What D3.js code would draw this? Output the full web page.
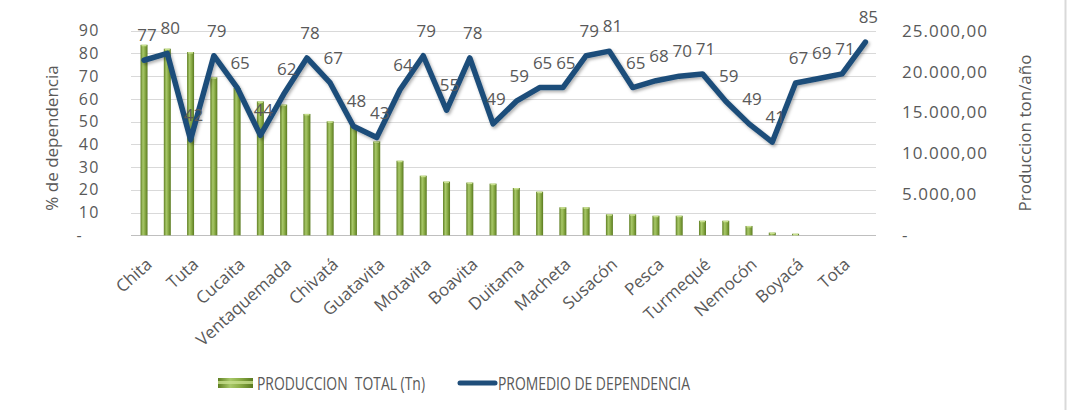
<!DOCTYPE html>
<html>
<head>
<meta charset="utf-8">
<script src="https://cdn.jsdelivr.net/npm/d3@7"></script>
<style>
  html, body { margin: 0; padding: 0; background: #fff; }
  svg { display: block; }
</style>
</head>
<body>
<svg id="chart" width="1068" height="410"></svg>
<script>
// ---- data ----
const categoryNames = ["Chita","","Tuta","","Cucaita","","Ventaquemada","","Chivatá","","Guatavita","","Motavita","","Boavita","","Duitama","","Macheta","","Susacón","","Pesca","","Turmequé","","Nemocón","","Boyacá","","Tota",""];
const produccionTotal = [23280,22800,22390,19300,18000,16360,15970,14830,13920,13470,11470,9110,7280,6560,6440,6310,5780,5330,3420,3420,2560,2560,2390,2390,1780,1780,1140,330,190,0,0,0];
const promedioDependencia = [77,80,42,79,65,44,62,78,67,48,43,64,79,55,78,49,59,65,65,79,81,65,68,70,71,59,49,41,67,69,71,85];
const leftTicks = [0,10,20,30,40,50,60,70,80,90];
const rightTicks = [0,5000,10000,15000,20000,25000];
const legendLabels = ["PRODUCCION  TOTAL (Tn)", "PROMEDIO DE DEPENDENCIA"];
const leftTitle = "% de dependencia";
const rightTitle = "Produccion ton/año";

// ---- layout ----
const svg = d3.select("#chart");
const textColor = "#595959";
const idx = d3.range(categoryNames.length);
const x = d3.scaleBand().domain(idx).range([132.4, 877]);
const yL = d3.scaleLinear().domain([0, 90]).range([235.3, 30.7]);
const yR = d3.scaleLinear().domain([0, 25000]).range([235.3, 30.7]);
const cx = i => x(i) + x.bandwidth() / 2;

const es = d3.formatLocale({decimal: ",", thousands: ".", grouping: [3], currency: ["", ""]});
const fmtR = es.format(",.2f");

const defs = svg.append("defs");
const grad = defs.append("linearGradient").attr("id", "barGrad").attr("x1", "0").attr("x2", "1").attr("y1", "0").attr("y2", "0");
grad.append("stop").attr("offset", "0%").attr("stop-color", "#5f7f22");
grad.append("stop").attr("offset", "35%").attr("stop-color", "#a8c86a");
grad.append("stop").attr("offset", "60%").attr("stop-color", "#8eb04a");
grad.append("stop").attr("offset", "100%").attr("stop-color", "#5a7a20");
const shadow = defs.append("filter").attr("id", "shadow").attr("x", "-5%").attr("y", "-20%").attr("width", "110%").attr("height", "140%");
shadow.append("feDropShadow").attr("dx", 1.5).attr("dy", 2).attr("stdDeviation", 1.5).attr("flood-color", "#000").attr("flood-opacity", 0.3);

// chart frame edge on right
svg.append("line").attr("x1", 1065.5).attr("x2", 1065.5).attr("y1", 0).attr("y2", 410)
  .attr("stroke", "#d9d9d9").attr("stroke-width", 2);

// gridlines
svg.append("g").selectAll("line").data(leftTicks.filter(d => d > 0)).join("line")
  .attr("x1", 131).attr("x2", 876)
  .attr("y1", d => Math.round(yL(d)) + 0.5).attr("y2", d => Math.round(yL(d)) + 0.5)
  .attr("stroke", "#d9d9d9").attr("stroke-width", 1);
svg.append("line").attr("x1", 131).attr("x2", 876)
  .attr("y1", Math.round(yL(0)) + 0.5).attr("y2", Math.round(yL(0)) + 0.5)
  .attr("stroke", "#bfbfbf").attr("stroke-width", 1);

// left axis labels
const leftAxis = d3.axisLeft(yL).tickValues(leftTicks).tickSize(0).tickPadding(0)
  .tickFormat(d => d === 0 ? "-\u00a0\u00a0\u00a0" : String(d));
svg.append("g").attr("transform", "translate(100,0)").call(leftAxis)
  .call(g => g.select(".domain").remove())
  .selectAll("text").attr("fill", textColor).attr("font-family", "Open Sans").attr("font-size", 16)
  .attr("letter-spacing", 1.5);

// right axis labels
const rightAxis = d3.axisRight(yR).tickValues(rightTicks).tickSize(0).tickPadding(0)
  .tickFormat(d => d === 0 ? "-" : fmtR(d));
svg.append("g").attr("transform", "translate(902,0)").call(rightAxis)
  .call(g => g.select(".domain").remove())
  .selectAll("text").attr("fill", textColor).attr("font-family", "Open Sans").attr("font-size", 17)
  .attr("letter-spacing", 1);

// axis titles
svg.append("text").attr("transform", `translate(58,${(yL(0) + yL(90)) / 2 + 5}) rotate(-90)`)
  .attr("text-anchor", "middle").attr("fill", textColor)
  .attr("font-family", "Open Sans").attr("font-size", 17).text(leftTitle);
svg.append("text").attr("transform", `translate(1031,${(yR(0) + yR(25000)) / 2}) rotate(-90)`)
  .attr("text-anchor", "middle").attr("fill", textColor)
  .attr("font-family", "Open Sans").attr("font-size", 17).text(rightTitle);

// bars
const barW = 7;
svg.append("g").selectAll("rect").data(produccionTotal).join("rect")
  .attr("x", (d, i) => cx(i) - barW / 2)
  .attr("width", barW)
  .attr("y", d => yR(d))
  .attr("height", d => yR(0) - yR(d))
  .attr("fill", "url(#barGrad)");
svg.append("g").selectAll("rect").data(produccionTotal).join("rect")
  .attr("x", (d, i) => cx(i) - barW / 2 + 1)
  .attr("width", barW - 2)
  .attr("y", d => yR(d))
  .attr("height", d => d > 0 ? 1.5 : 0)
  .attr("fill", "#c8e08e");

// line
const line = d3.line().x((d, i) => cx(i)).y(d => yL(d));
svg.append("path").datum(promedioDependencia)
  .attr("d", line).attr("fill", "none")
  .attr("stroke", "#1f4e7a").attr("stroke-width", 5.5)
  .attr("stroke-linejoin", "round").attr("stroke-linecap", "round")
  .attr("filter", "url(#shadow)");

// data labels
svg.append("g").selectAll("text").data(promedioDependencia).join("text")
  .attr("x", (d, i) => cx(i) + 3)
  .attr("y", d => yL(d) - 19)
  .attr("text-anchor", "middle")
  .attr("fill", textColor).attr("font-family", "Open Sans").attr("font-size", 17)
  .text(d => d);

// category labels
svg.append("g").selectAll("text").data(idx.filter(i => categoryNames[i] !== "")).join("text")
  .attr("transform", i => `translate(${cx(i) + 9},266) rotate(-42)`)
  .attr("text-anchor", "end")
  .attr("fill", textColor).attr("font-family", "Open Sans").attr("font-size", 17)
  .text(i => categoryNames[i]);

// legend
const lg = svg.append("g");
lg.append("rect").attr("x", 218).attr("y", 378).attr("width", 35).attr("height", 10).attr("fill", "url(#barGrad)");
lg.append("rect").attr("x", 218).attr("y", 381).attr("width", 35).attr("height", 3).attr("fill", "#c8e08e").attr("opacity", 0.8);
lg.append("text").attr("x", 257).attr("y", 390).attr("fill", textColor)
  .attr("font-family", "Open Sans").attr("font-size", 17.5)
  .attr("textLength", 168).attr("lengthAdjust", "spacingAndGlyphs")
  .style("white-space", "pre").text(legendLabels[0]);
lg.append("line").attr("x1", 460).attr("x2", 495).attr("y1", 383).attr("y2", 383)
  .attr("stroke", "#1f4e7a").attr("stroke-width", 5).attr("stroke-linecap", "round");
lg.append("text").attr("x", 498).attr("y", 390).attr("fill", textColor)
  .attr("font-family", "Open Sans").attr("font-size", 17.5)
  .attr("textLength", 192).attr("lengthAdjust", "spacingAndGlyphs")
  .text(legendLabels[1]);
</script>
</body>
</html>
